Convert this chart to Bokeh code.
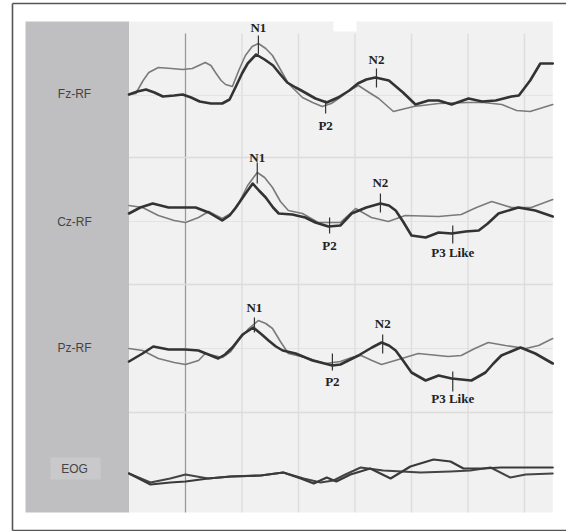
from bokeh.plotting import figure
from bokeh.models import Range1d
from bokeh.embed import file_html
from bokeh.resources import INLINE
from bokeh.core.properties import value

# ---------------- data (time in ms, amplitude in display units, negative up) -------------
channel_names = ["Fz-RF", "Cz-RF", "Pz-RF", "EOG"]
grid_ms = [100, 200, 300, 400, 500, 600]
onset_ms = 0

fz_thick_t = [-100, -85, -70, -55, -40, -20, -5, 10, 25, 45, 65, 78, 90, 100, 110, 125, 140, 155, 168, 180,
              195, 205, 230, 250, 270, 290, 305, 320, 336, 360, 385, 407, 430, 448, 471, 501, 525, 549,
              577, 590, 610, 628, 650]
fz_thick_v = [-1, -4, -6, -3, 1, 0, -1, 2, 6, 8, 8, 4, -10, -22, -32, -41, -36, -30, -21, -13,
              -8, -5, 3, 7, 2, -5, -12, -16, -18, -15, -3, 9, 5, 5, 9, 3, 6, 5,
              1, 0, -15, -32, -32]
fz_thin_t = [-100, -88, -75, -65, -48, -25, -5, 12, 35, 45, 53, 63, 71, 83, 95, 106, 118, 129, 142, 154,
             168, 182, 207, 225, 242, 258, 271, 290, 306, 325, 342, 368, 404, 448, 500, 527, 560, 586,
             610, 650]
fz_thin_v = [-1, -2, -15, -23, -28, -27, -26, -27, -33, -30, -23, -15, -11, -9, -26, -40, -49, -52, -47, -40,
             -26, -12, 2, 7, 11, 8, 3, -5, -10, -3, 3, 16, 11, 8, 7, 7, 9, 15,
             16, 9]

cz_thick_t = [-100, -80, -58, -30, 0, 18, 41, 65, 78, 88, 105, 119, 130, 142, 155, 165, 189, 212, 230,
              253, 274, 294, 320, 345, 360, 372, 385, 400, 425, 448, 471, 496, 519, 535, 554, 589,
              619, 650]
cz_thick_v = [-8, -14, -18, -14, -14, -14, -9, -1, -6, -13, -27, -38, -31, -24, -14, -8, -7, -4, 1,
              5, 4, -8, -14, -18, -16, -11, 0, 14, 16, 11, 12, 10, 9, 2, -8, -14,
              -11, -5]
cz_thin_t = [-100, -76, -48, -20, 0, 23, 41, 65, 80, 94, 110, 127, 140, 154, 168, 182, 207, 235, 274,
             301, 329, 359, 389, 448, 488, 515, 542, 577, 612, 650]
cz_thin_v = [-16, -14, -6, -1, 1, -4, -10, -3, -8, -18, -36, -49, -44, -34, -20, -11, -8, 1, 1,
             -13, -4, 0, -6, -5, -7, -14, -20, -14, -14, -22]

pz_thick_t = [-100, -76, -57, -30, 0, 23, 58, 70, 83, 101, 120, 135, 147, 160, 172, 195, 225, 260,
              274, 306, 330, 347, 360, 372, 385, 400, 425, 448, 471, 506, 531, 545, 559, 593,
              619, 650]
pz_thick_v = [13, 5, -2, 1, 1, 2, 10, 6, -1, -14, -21, -14, -8, -2, 2, 5, 12, 17,
              16, 7, -1, -6, -3, 2, 12, 24, 32, 27, 30, 32, 24, 15, 7, -1,
              5, 15]
pz_thin_t = [-100, -76, -48, -20, 0, 23, 35, 65, 80, 94, 112, 129, 142, 154, 168, 182, 212, 248,
             274, 294, 311, 330, 347, 377, 412, 465, 488, 512, 536, 566, 602, 625, 650]
pz_thin_v = [0, 2, 10, 14, 16, 12, 5, 9, 3, -8, -20, -28, -25, -20, -7, 5, 9, 15,
             13, 9, 7, 12, 16, 11, 5, 8, 7, 0, -6, -3, 0, -3, -10]

eog_a_t = [-100, -62, -27, 0, 40, 80, 133, 173, 204, 227, 250, 267, 292, 327, 363, 398, 439, 469,
           492, 527, 558, 611, 650]
eog_a_v = [1, 12, 10, 9, 6, 4, 3, 0, 6, 11, 5, 9, 2, -4, 6, -6, -13, -11,
           -4, -4, -5, -5, -5]
eog_b_t = [-100, -62, -27, 0, 40, 80, 133, 173, 209, 239, 262, 283, 310, 350, 416, 469, 504, 540,
           575, 602, 650]
eog_b_v = [1, 10, 6, 2, 6, 4, 3, 0, 6, 10, 8, 2, -5, -2, 0, -1, -2, -5,
           5, 2, 1]

# component markers
comp_channel = [0, 0, 0, 1, 1, 1, 1, 2, 2, 2, 2]
comp_label = ["N1", "P2", "N2", "N1", "P2", "N2", "P3 Like", "N1", "P2", "N2", "P3 Like"]
comp_ms = [129, 248, 338, 127, 255, 345, 473, 122, 260, 349, 473]
comp_tick_top = [-60, 5, -27, -59, -4, -28, 4, -31, 5, -14, 23]
comp_tick_bot = [-41, 18, -8, -38, 12, -9, 22, -16, 22, 5, 43]
comp_text_y = [-68, 30, -36, -64, 24, -39, 31, -41, 33, -25, 50]

# ---------------- layout ----------------
W, H = 566, 531
ORIGIN_PX = 185.0        # screen x of 0 ms
PX_PER_MS = 0.565
def sx(px):
    return (px - ORIGIN_PX) / PX_PER_MS

bases = [95, 221, 348, 472]

p = figure(width=W, height=H, output_backend="svg", toolbar_location=None,
           x_range=Range1d(sx(0), sx(W)), y_range=Range1d(H, 0),
           x_axis_type=None, y_axis_type=None, min_border=0)
p.grid.visible = False
p.outline_line_color = None
p.background_fill_color = "white"
p.border_fill_color = "white"

# outer border
p.line([sx(12), sx(12)], [3, 530], line_color="#555555", line_width=1.6)
p.line([sx(12), sx(566)], [3, 3], line_color="#555555", line_width=1.6)
p.line([sx(12), sx(566)], [530, 530], line_color="#555555", line_width=1.6)

# label panel
p.quad(left=sx(25), right=sx(128.5), top=21, bottom=512, fill_color="#bfbfc1", line_color=None)
p.quad(left=sx(50), right=sx(100), top=457, bottom=479, fill_color="#c9c9cb", line_color=None)
# plot area
p.quad(left=-100, right=650, top=21, bottom=512, fill_color="#f1f1f1", line_color=None)
p.quad(left=sx(333), right=sx(356), top=20, bottom=31, fill_color="white", line_color=None)

# grid
for g in grid_ms:
    p.line([g, g], [33, 512], line_color="#dedede", line_width=1.5)
p.line([onset_ms, onset_ms], [33, 512], line_color="#9a9a9a", line_width=1.3)
for yy in [157, 284, 412]:
    p.line([-100, 650], [yy, yy], line_color="#dcdcdc", line_width=1.3)
for yy in bases[:3]:
    p.line([-100, 650], [yy, yy], line_color="#e3e3e3", line_width=1.2)

# channel labels
lab_y = [93, 221, 347, 468]
p.text(x=[sx(74)] * 4, y=lab_y, text=channel_names, text_align="center", text_baseline="middle",
       text_font=value("Liberation Sans"), text_font_size="12px", text_color="#444444")

# waveforms
def shift(vals, base):
    return [base + v for v in vals]

thin_col, thick_col = "#7a7a7a", "#333333"
kw = dict(line_join="round", line_cap="round")
p.line(fz_thin_t, shift(fz_thin_v, bases[0]), line_color=thin_col, line_width=1.6, **kw)
p.line(fz_thick_t, shift(fz_thick_v, bases[0]), line_color=thick_col, line_width=2.6, **kw)
p.line(cz_thin_t, shift(cz_thin_v, bases[1]), line_color=thin_col, line_width=1.6, **kw)
p.line(cz_thick_t, shift(cz_thick_v, bases[1]), line_color=thick_col, line_width=2.6, **kw)
p.line(pz_thin_t, shift(pz_thin_v, bases[2]), line_color=thin_col, line_width=1.6, **kw)
p.line(pz_thick_t, shift(pz_thick_v, bases[2]), line_color=thick_col, line_width=2.6, **kw)
p.line(eog_b_t, shift(eog_b_v, bases[3]), line_color="#444444", line_width=2.0, **kw)
p.line(eog_a_t, shift(eog_a_v, bases[3]), line_color="#3a3a3a", line_width=2.2, **kw)

# component markers
for ch, lab, ms, t0, t1, ty in zip(comp_channel, comp_label, comp_ms, comp_tick_top,
                                   comp_tick_bot, comp_text_y):
    b = bases[ch]
    p.line([ms, ms], [b + t0, b + t1], line_color="#333333", line_width=1.2)
    p.text(x=[ms], y=[b + ty], text=[lab], text_align="center", text_baseline="middle",
           text_font=value("Liberation Serif"), text_font_style="bold",
           text_font_size="13px", text_color="#222222")

open("out.html", "w").write(file_html(p, INLINE))
